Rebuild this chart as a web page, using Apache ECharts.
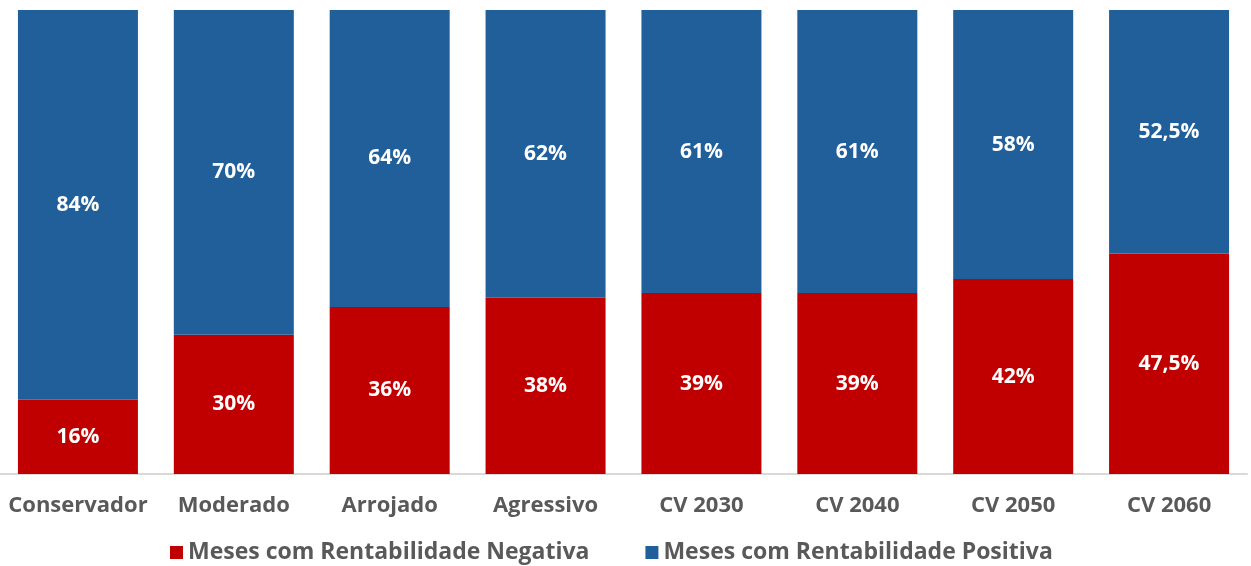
<!DOCTYPE html>
<html>
<head>
<meta charset="utf-8">
<script src="https://cdn.jsdelivr.net/npm/echarts@6/dist/echarts.min.js"></script>
<style>
  html, body { margin: 0; padding: 0; background: #fff; }
  #main { width: 1251px; height: 566px; }
</style>
</head>
<body>
<div id="main"></div>
<script>
const categories = ['Conservador', 'Moderado', 'Arrojado', 'Agressivo', 'CV 2030', 'CV 2040', 'CV 2050', 'CV 2060'];
const negativos = [16, 30, 36, 38, 39, 39, 42, 47.5];
const positivos = [84, 70, 64, 62, 61, 61, 58, 52.5];

const fonte = '"Open Sans", Lato, sans-serif';

// rótulo com vírgula decimal
function fmt(p) {
  return String(p.value).replace('.', ',') + '%';
}

const chart = echarts.init(document.getElementById('main'));

const option = {
  animation: false,
  textStyle: { fontFamily: fonte },
  grid: { left: -1, right: 4, top: 10, bottom: 92 },
  legend: {
    bottom: -3,
    left: 165,
    itemWidth: 13,
    itemHeight: 13,
    itemGap: 56,
    icon: 'rect',
    textStyle: { color: '#595959', fontSize: 23, fontWeight: 'bold', fontFamily: fonte }
  },
  xAxis: {
    type: 'category',
    data: categories,
    axisLine: { lineStyle: { color: '#D9D9D9', width: 2 } },
    axisTick: { show: false },
    axisLabel: { color: '#595959', fontSize: 22, fontWeight: 'bold', margin: 21, interval: 0 }
  },
  yAxis: {
    type: 'value',
    min: 0,
    max: 100,
    show: false,
    splitLine: { show: false }
  },
  series: [
    {
      name: 'Meses com Rentabilidade Negativa',
      type: 'bar',
      stack: 'total',
      barWidth: 120,
      data: negativos,
      itemStyle: { color: '#C00000' },
      label: { show: true, position: 'inside', color: '#fff', fontSize: 21, fontWeight: 'bold', formatter: fmt }
    },
    {
      name: 'Meses com Rentabilidade Positiva',
      type: 'bar',
      stack: 'total',
      barWidth: 120,
      data: positivos,
      itemStyle: { color: '#215F9A' },
      label: { show: true, position: 'inside', color: '#fff', fontSize: 21, fontWeight: 'bold', formatter: fmt }
    }
  ]
};

chart.setOption(option);
</script>
</body>
</html>
